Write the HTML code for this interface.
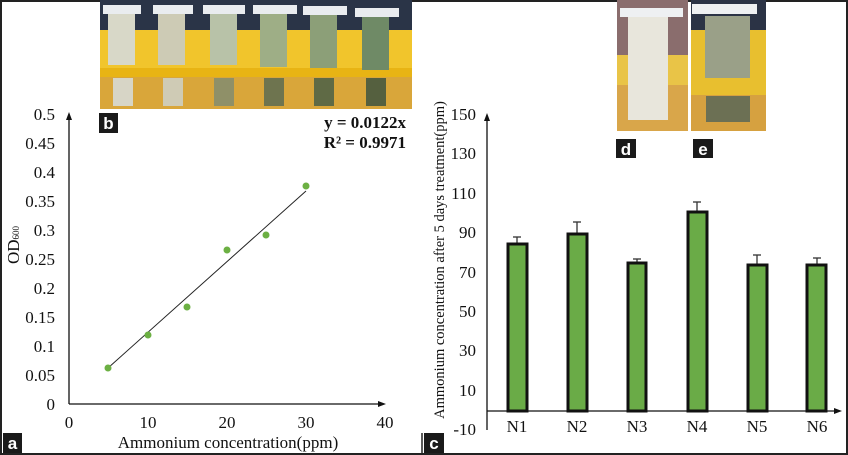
<!DOCTYPE html>
<html><head><meta charset="utf-8"><style>
html,body{margin:0;padding:0;background:#fff;}
svg{display:block;}
text{font-family:"Liberation Serif",serif;fill:#111;}
.lb{font-family:"Liberation Sans",sans-serif;font-weight:bold;fill:#fff;font-size:17px;}
</style></head><body>
<svg width="848" height="455" viewBox="0 0 848 455" xmlns="http://www.w3.org/2000/svg">
<defs>
<linearGradient id="tube" x1="0" x2="1"><stop offset="0" stop-color="#cfd3c4"/><stop offset="0.5" stop-color="#e6e8dc"/><stop offset="1" stop-color="#c2c6b4"/></linearGradient>
</defs>
<rect x="1" y="1" width="846" height="453" fill="#fff" stroke="#222" stroke-width="2"/>
<line x1="422" y1="433" x2="422" y2="454" stroke="#222" stroke-width="1.5"/>
<!-- photo b -->
<rect x="100" y="0" width="312" height="109" fill="#f2c21e"/>
<rect x="100" y="0" width="312" height="38" fill="#2a3447"/>
<rect x="100" y="30" width="312" height="40" fill="#f1c52c"/>
<rect x="100" y="68" width="312" height="9" fill="#e8b414"/>
<rect x="100" y="77" width="312" height="32" fill="#d9a63a"/>
<g>
<rect x="108" y="10" width="27" height="55" fill="#d8d8c8"/><rect x="113" y="78" width="20" height="28" fill="#d7d5c6"/>
<rect x="158" y="10" width="27" height="55" fill="#cdcbb5"/><rect x="163" y="78" width="20" height="28" fill="#cfcbb5"/>
<rect x="210" y="10" width="27" height="55" fill="#b8c2a8"/><rect x="214" y="78" width="20" height="28" fill="#8f9068"/>
<rect x="260" y="10" width="27" height="57" fill="#9eae86"/><rect x="264" y="78" width="20" height="28" fill="#6e744f"/>
<rect x="310" y="10" width="27" height="58" fill="#8c9f78"/><rect x="314" y="78" width="20" height="28" fill="#5f6a45"/>
<rect x="362" y="12" width="27" height="58" fill="#6f8a66"/><rect x="366" y="78" width="20" height="28" fill="#55603f"/>
<g fill="#e9ecef"><rect x="103" y="5" width="38" height="9"/><rect x="153" y="5" width="40" height="9"/><rect x="203" y="5" width="42" height="9"/><rect x="253" y="5" width="44" height="9"/><rect x="303" y="6" width="44" height="9"/><rect x="355" y="8" width="44" height="9"/></g>
</g>
<rect x="99" y="113" width="19" height="20" fill="#1a1a1a"/><text class="lb" x="108.5" y="129" text-anchor="middle">b</text>
<!-- photos d e -->
<rect x="617" y="0" width="71" height="131" fill="#e9c447"/>
<rect x="617" y="0" width="71" height="55" fill="#8a6d6d"/>
<rect x="617" y="85" width="71" height="46" fill="#d9a64a"/>
<rect x="628" y="10" width="40" height="110" fill="#e8e6dc"/>
<rect x="691" y="0" width="75" height="131" fill="#e8bf2f"/>
<rect x="691" y="0" width="75" height="30" fill="#2b3345"/>
<rect x="691" y="95" width="75" height="36" fill="#d6a140"/>
<rect x="705" y="16" width="45" height="62" fill="#9aa088"/>
<rect x="706" y="96" width="44" height="26" fill="#6c7054"/>
<rect x="692" y="4" width="65" height="10" fill="#eef0f2"/>
<rect x="620" y="8" width="63" height="9" fill="#eef0f2"/>
<rect x="616" y="139" width="20" height="19" fill="#1a1a1a"/><text class="lb" x="626" y="155" text-anchor="middle">d</text>
<rect x="693" y="139" width="20" height="19" fill="#1a1a1a"/><text class="lb" x="703" y="155" text-anchor="middle">e</text>
<!-- chart a -->
<line x1="69" y1="404" x2="69" y2="118" stroke="#111" stroke-width="1.3"/>
<polygon points="69,112 66,120 72,120" fill="#111"/>
<line x1="69" y1="404" x2="380" y2="404" stroke="#111" stroke-width="1.3"/>
<polygon points="386,404 378,401 378,407" fill="#111"/>
<g font-size="17" text-anchor="end">
<text x="55" y="120">0.5</text><text x="55" y="149">0.45</text><text x="55" y="178">0.4</text><text x="55" y="207">0.35</text><text x="55" y="236">0.3</text><text x="55" y="265">0.25</text><text x="55" y="294">0.2</text><text x="55" y="323">0.15</text><text x="55" y="352">0.1</text><text x="55" y="381">0.05</text><text x="55" y="410">0</text>
</g>
<g font-size="17" text-anchor="middle">
<text x="69" y="428">0</text><text x="148" y="428">10</text><text x="227" y="428">20</text><text x="306" y="428">30</text><text x="385" y="428">40</text>
</g>
<text x="228" y="448" font-size="17" text-anchor="middle">Ammonium concentration(ppm)</text>
<text transform="translate(19,245) rotate(-90)" font-size="17" text-anchor="middle">OD<tspan font-size="9">600</tspan></text>
<line x1="108" y1="368" x2="306" y2="191" stroke="#222" stroke-width="1"/>
<g fill="#6cb043">
<circle cx="108" cy="368" r="3.5"/><circle cx="148" cy="335" r="3.5"/><circle cx="187" cy="307" r="3.5"/><circle cx="227" cy="250" r="3.5"/><circle cx="266" cy="235" r="3.5"/><circle cx="306" cy="186" r="3.5"/>
</g>
<text x="406" y="128" font-size="17" font-weight="bold" text-anchor="end">y = 0.0122x</text>
<text x="406" y="148" font-size="17" font-weight="bold" text-anchor="end">R² = 0.9971</text>
<rect x="3" y="433" width="19" height="20" fill="#1a1a1a"/><text class="lb" x="12.5" y="449" text-anchor="middle">a</text>
<!-- chart c -->
<line x1="487" y1="430" x2="487" y2="120" stroke="#111" stroke-width="1.3"/>
<polygon points="487,113 484,121 490,121" fill="#111"/>
<line x1="487" y1="411" x2="836" y2="411" stroke="#111" stroke-width="1.3"/>
<polygon points="842,411 834,408 834,414" fill="#111"/>
<g font-size="17" text-anchor="end">
<text x="476" y="120">150</text><text x="476" y="159">130</text><text x="476" y="199">110</text><text x="476" y="238">90</text><text x="476" y="278">70</text><text x="476" y="317">50</text><text x="476" y="356">30</text><text x="476" y="396">10</text><text x="476" y="435">-10</text>
</g>
<text transform="translate(444,260) rotate(-90)" font-size="14.5" text-anchor="middle">Ammonium concentration after 5 days treatment(ppm)</text>
<g stroke="#333" stroke-width="1.3">
<line x1="517" y1="244" x2="517" y2="237"/><line x1="513" y1="237" x2="521" y2="237"/>
<line x1="577" y1="234" x2="577" y2="222"/><line x1="573" y1="222" x2="581" y2="222"/>
<line x1="637" y1="263" x2="637" y2="259"/><line x1="633" y1="259" x2="641" y2="259"/>
<line x1="697" y1="212" x2="697" y2="202"/><line x1="693" y1="202" x2="701" y2="202"/>
<line x1="757" y1="265" x2="757" y2="255"/><line x1="753" y1="255" x2="761" y2="255"/>
<line x1="817" y1="265" x2="817" y2="258"/><line x1="813" y1="258" x2="821" y2="258"/>
</g>
<g fill="#6aab47" stroke="#111" stroke-width="3">
<rect x="508" y="244" width="19" height="167"/>
<rect x="568" y="234" width="19" height="177"/>
<rect x="628" y="263" width="18" height="148"/>
<rect x="688" y="212" width="19" height="199"/>
<rect x="748" y="265" width="19" height="146"/>
<rect x="807" y="265" width="19" height="146"/>
</g>
<g font-size="17" text-anchor="middle">
<text x="517" y="432">N1</text><text x="577" y="432">N2</text><text x="637" y="432">N3</text><text x="697" y="432">N4</text><text x="757" y="432">N5</text><text x="817" y="432">N6</text>
</g>
<rect x="424" y="433" width="20" height="20" fill="#1a1a1a"/><text class="lb" x="434" y="449" text-anchor="middle">c</text>
</svg>
</body></html>
